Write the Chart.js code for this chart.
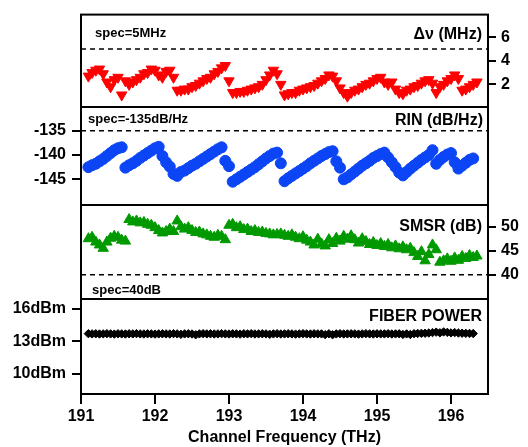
<!DOCTYPE html>
<html><head><meta charset="utf-8">
<script src="https://cdn.jsdelivr.net/npm/chart.js@4/dist/chart.umd.min.js"></script>
<style>
html,body{margin:0;padding:0;background:#fff;}
#wrap{position:relative;width:528px;height:447px;overflow:hidden;}
#wrap canvas{position:absolute;left:0;top:0;}
</style></head><body>
<div id="wrap">
<canvas id="c1" width="528" height="447"></canvas>
<canvas id="c2" width="528" height="447"></canvas>
<canvas id="c3" width="528" height="447"></canvas>
<canvas id="c4" width="528" height="447"></canvas>
</div>
<script>
// ---------------- DATA ----------------
const freqTHz = [
191.10,191.15,191.20,191.25,191.30,191.35,191.40,191.45,191.50,191.55,
191.60,191.65,191.70,191.75,191.80,191.85,191.90,191.95,192.00,192.05,
192.10,192.15,192.20,192.25,192.30,192.35,192.40,192.45,192.50,192.55,
192.60,192.65,192.70,192.75,192.80,192.85,192.90,192.95,193.00,193.05,
193.10,193.15,193.20,193.25,193.30,193.35,193.40,193.45,193.50,193.55,
193.60,193.65,193.70,193.75,193.80,193.85,193.90,193.95,194.00,194.05,
194.10,194.15,194.20,194.25,194.30,194.35,194.40,194.45,194.50,194.55,
194.60,194.65,194.70,194.75,194.80,194.85,194.90,194.95,195.00,195.05,
195.10,195.15,195.20,195.25,195.30,195.35,195.40,195.45,195.50,195.55,
195.60,195.65,195.70,195.75,195.80,195.85,195.90,195.95,196.00,196.05,
196.10,196.15,196.20,196.25,196.30,196.35];

const linewidthMHz = [
2.7,3.0,3.2,3.3,2.9,2.2,1.8,2.4,2.6,1.1,
2.3,2.0,2.2,2.4,2.6,2.9,3.0,3.3,3.2,2.8,
2.6,3.1,3.2,2.6,1.5,1.5,1.6,1.6,1.8,1.9,
2.1,2.3,2.5,2.6,2.9,3.1,3.4,3.6,2.3,1.3,
1.3,1.4,1.4,1.5,1.6,1.7,1.8,2.0,2.4,2.8,
3.2,2.9,2.0,1.1,1.2,1.3,1.3,1.5,1.6,1.7,
1.8,1.9,2.1,2.3,2.5,2.8,2.7,2.3,1.7,1.3,
1.0,1.3,1.5,1.6,1.8,2.0,2.1,2.3,2.5,2.6,
2.2,2.0,2.2,1.6,1.3,1.2,1.5,1.6,1.8,1.9,
2.1,2.3,2.4,2.1,1.3,1.8,2.0,2.3,2.5,2.8,
2.5,1.5,1.6,1.8,2.0,2.2];

const rinDbHz = [
-142.5,-142.1,-141.8,-141.3,-140.8,-140.2,-139.6,-139.0,-138.6,-138.4,
-142.6,-142.1,-141.7,-141.2,-140.6,-140.1,-139.6,-139.1,-138.6,-138.3,
-140.2,-141.5,-142.4,-143.9,-144.3,-143.5,-143.2,-142.7,-142.2,-141.8,
-141.3,-140.8,-140.3,-139.8,-139.3,-138.8,-138.4,-141.2,-142.3,-145.5,
-145.0,-144.5,-144.0,-143.5,-143.0,-142.5,-141.9,-141.3,-140.7,-140.2,
-139.7,-139.5,-141.7,-145.4,-144.8,-144.3,-143.8,-143.3,-142.8,-142.3,
-141.7,-141.2,-140.7,-140.2,-139.8,-139.4,-139.2,-141.3,-142.6,-145.0,
-144.6,-144.0,-143.4,-142.8,-142.2,-141.7,-141.2,-140.6,-140.2,-139.8,
-139.5,-140.5,-141.5,-142.5,-143.6,-144.2,-143.5,-142.8,-142.2,-141.6,
-141.0,-140.5,-140.0,-139.0,-141.8,-141.0,-140.4,-139.9,-139.6,-141.5,
-142.8,-142.2,-141.6,-141.0,-140.7,null];

const smsrDb = [
47.5,47.8,46.8,46.2,45.5,46.8,47.6,48.0,47.8,47.2,
47.0,51.5,51.0,51.2,50.8,50.9,50.5,50.3,49.8,49.2,
48.7,49.0,49.5,49.0,51.2,50.0,49.5,49.8,49.2,48.8,
48.9,48.5,48.3,48.0,47.8,48.2,48.0,47.3,50.3,50.5,
49.8,50.0,49.4,49.5,49.0,49.2,48.8,48.9,48.6,48.5,
48.3,48.4,48.5,48.2,48.0,48.3,47.8,47.5,47.9,47.2,
46.8,46.2,47.4,46.4,46.0,47.3,46.5,47.6,47.0,48.0,
47.4,48.1,47.3,46.6,47.5,46.9,46.3,46.7,46.1,46.5,
45.9,46.3,45.6,46.0,45.4,45.8,45.2,45.5,44.6,43.8,
44.8,42.9,44.2,46.2,45.2,42.6,42.9,43.3,42.8,43.5,
43.0,43.8,43.4,44.0,43.6,43.9];

const fiberPowerDbm = [
13.72,13.70,13.71,13.69,13.70,13.72,13.70,13.68,13.71,13.70,
13.69,13.71,13.70,13.72,13.70,13.69,13.71,13.70,13.68,13.70,
13.71,13.70,13.69,13.72,13.70,13.66,13.70,13.71,13.69,13.62,
13.70,13.72,13.70,13.71,13.69,13.70,13.72,13.70,13.69,13.71,
13.70,13.68,13.71,13.70,13.72,13.69,13.70,13.71,13.70,13.66,
13.70,13.72,13.69,13.70,13.71,13.70,13.68,13.70,13.72,13.70,
13.69,13.71,13.70,13.70,13.63,13.71,13.62,13.70,13.72,13.69,
13.70,13.71,13.70,13.68,13.70,13.72,13.70,13.69,13.71,13.70,
13.70,13.72,13.69,13.70,13.71,13.65,13.70,13.64,13.72,13.74,
13.75,13.76,13.78,13.82,13.86,13.80,13.88,13.84,13.79,13.82,
13.78,13.76,13.75,13.74,13.73,null];

const xTickValues = [191,192,193,194,195,196];
const linewidthTicks = [2,4,6];
const rinTicks = [-135,-140,-145];
const smsrTicks = [40,45,50];
const powerTicks = [10,13,16];
const specLinewidth = 5;
const specRin = -135;
const specSmsr = 40;

// ---------------- RENDERING ----------------
const X_MIN = 191, X_MAX = 196.5;
const FONT = "'Liberation Sans', Arial, sans-serif";

function pts(vals){ return freqTHz.map((f,i)=>({x:f, y:vals[i]})); }

const framePlugin = {
  id:'frame',
  afterDatasetsDraw(chart){
    const a = chart.chartArea, ctx = chart.ctx;
    ctx.save(); ctx.strokeStyle='#000'; ctx.lineWidth=2;
    ctx.strokeRect(a.left, a.top, a.right-a.left, a.bottom-a.top);
    ctx.restore();
  }
};
const textPlugin = {
  id:'panelText',
  afterDraw(chart, args, opts){
    const a = chart.chartArea, ctx = chart.ctx;
    ctx.save(); ctx.fillStyle='#000'; ctx.textBaseline='middle';
    (opts.items||[]).forEach(it=>{
      ctx.font = it.font; ctx.textAlign = it.align;
      const x = it.align==='left' ? a.left+it.dx : a.right-it.dx;
      ctx.fillText(it.text, x, a.top+it.dy);
    });
    ctx.restore();
  }
};

function makePanel(id, cfg){
  const yAxis = {
    type:'linear', position:cfg.pos, min:cfg.min, max:cfg.max,
    afterBuildTicks:(s)=>{ s.ticks = cfg.ticks.map(v=>({value:v})); },
    afterFit:(s)=>{ s.width = cfg.pos==='left' ? 81 : 40; },
    ticks:{ color:'#000', font:{family:FONT, size:16, weight:'bold'}, padding:cfg.pos==='left'?6:5,
            callback:(v)=> cfg.suffix ? (v+cfg.suffix) : String(v) },
    grid:{ drawOnChartArea:false, drawTicks:true, tickLength:cfg.pos==='left'?9:8, color:'#000', lineWidth:2 },
    border:{ display:false }
  };
  const xAxis = {
    type:'linear', min:X_MIN, max:X_MAX, display: !!cfg.showX,
    afterBuildTicks:(s)=>{ s.ticks = xTickValues.map(v=>({value:v})); },
    afterFit:(s)=>{ if(cfg.showX) s.height = 53; },
    ticks:{ color:'#000', font:{family:FONT, size:16, weight:'bold'}, padding:3, autoSkip:false, maxRotation:0 },
    grid:{ drawOnChartArea:false, drawTicks:true, tickLength:10, color:'#000', lineWidth:2 },
    border:{ display:false },
    title:{ display:true, text:'Channel Frequency (THz)', color:'#000',
            font:{family:FONT, size:16, weight:'bold'}, padding:{top:0,bottom:0} }
  };
  const datasets = [cfg.dataset];
  if (cfg.spec !== undefined) {
    datasets.push({ type:'line', data:[{x:X_MIN,y:cfg.spec},{x:X_MAX,y:cfg.spec}],
      borderColor:'#000', borderWidth:1.5, borderDash:[5,4], pointRadius:0, fill:false });
  }
  new Chart(document.getElementById(id), {
    type:'scatter',
    data:{ datasets },
    options:{
      responsive:false, animation:false, devicePixelRatio:1,
      layout:{ padding: cfg.padding },
      scales:{ x:xAxis, y:yAxis },
      plugins:{ legend:{display:false}, tooltip:{enabled:false}, title:{display:false},
                panelText:{ items:cfg.texts } }
    },
    plugins:[framePlugin, textPlugin]
  });
}

const bigFont = "bold 16px " + FONT;
const specFont = "bold 13px " + FONT;

makePanel('c1', {
  pos:'right', min:0.08, max:7.92, ticks:linewidthTicks, spec:specLinewidth,
  padding:{top:11, bottom:340, left:81, right:0},
  dataset:{ data:pts(linewidthMHz), pointStyle:'triangle', rotation:180, radius:6,
            backgroundColor:'#ff0000', borderColor:'#ff0000', borderWidth:1, showLine:false },
  texts:[ {text:'spec=5MHz', align:'left', dx:14, dy:19, font:specFont},
          {text:'\u0394\u03BD (MHz)', align:'right', dx:6, dy:20, font:bigFont} ]
});
makePanel('c2', {
  pos:'left', min:-150.3, max:-130.1, ticks:rinTicks, spec:specRin,
  padding:{top:107, bottom:242, left:0, right:40},
  dataset:{ data:pts(rinDbHz), pointStyle:'circle', radius:5.5,
            backgroundColor:'#0b45f5', borderColor:'#0b45f5', borderWidth:1, showLine:false },
  texts:[ {text:'spec=-135dB/Hz', align:'left', dx:7, dy:12, font:specFont},
          {text:'RIN (dB/Hz)', align:'right', dx:5, dy:14, font:bigFont} ]
});
makePanel('c3', {
  pos:'right', min:34.94, max:54.52, ticks:smsrTicks, spec:specSmsr,
  padding:{top:205, bottom:148, left:81, right:0},
  dataset:{ data:pts(smsrDb), pointStyle:'triangle', radius:6,
            backgroundColor:'#009a00', borderColor:'#009a00', borderWidth:1, showLine:false },
  texts:[ {text:'SMSR (dB)', align:'right', dx:6, dy:22, font:bigFont},
          {text:'spec=40dB', align:'left', dx:11, dy:85, font:specFont} ]
});
makePanel('c4', {
  pos:'left', min:8.15, max:16.92, ticks:powerTicks, suffix:'dBm', showX:true,
  padding:{top:299, bottom:0, left:0, right:40},
  dataset:{ data:pts(fiberPowerDbm), pointStyle:'rectRot', radius:4.2,
            backgroundColor:'#000', borderColor:'#000', borderWidth:1, showLine:false },
  texts:[ {text:'FIBER POWER', align:'right', dx:6, dy:18, font:bigFont} ]
});
</script>
</body></html>
